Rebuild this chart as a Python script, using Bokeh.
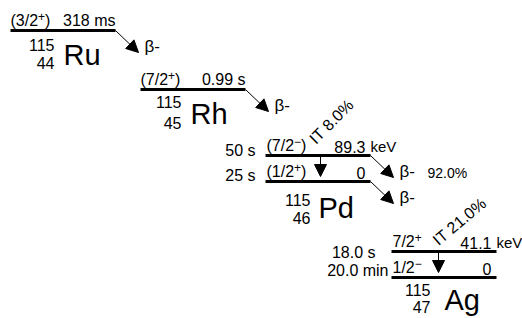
import math
from bokeh.plotting import figure
from bokeh.models import Range1d, Arrow, NormalHead, ColumnDataSource
from bokeh.embed import file_html
from bokeh.resources import INLINE
from bokeh.core.properties import value

# ---------------- data ----------------
symbols = ["Ru", "Rh", "Pd", "Ag"]
mass_numbers = [115, 115, 115, 115]
atomic_numbers = [44, 45, 46, 47]
# levels of each nuclide, upper level first
level_spins = [["(3/2⁺)"], ["(7/2⁺)"], ["(7/2⁻)", "(1/2⁺)"], ["7/2⁺", "1/2⁻"]]
level_energies = [[None], [None], ["89.3", "0"], ["41.1", "0"]]
energy_unit = "keV"
level_half_lives = [["318 ms"], ["0.99 s"], ["50 s", "25 s"], ["18.0 s", "20.0 min"]]
# beta- decay from each level (None = no beta decay), with branch label
beta_branches = [[""], [""], ["92.0%", ""], [None, None]]
it_branches = [None, None, "IT 8.0%", "IT 21.0%"]

# ---------------- layout (image pixels, y downwards) ----------------
W, H = 522, 318
FONT = "Liberation Sans"
x0s = [10, 140, 265, 391]
ground_ys = [30, 89, 181, 277]
LEVEL_LEN = 105
LEVEL_GAP = 26
num_dx = [44, 41, 45, 39]
sym_dx = [53, 50, 53, 53]
mass_dy = [14, 12, 18, 12]
z_dy = [32, 33, 36, 29]
sym_dy = [24, 24, 26, 22]
hl_left_dx = [None, None, [-10, -10], [-16, -3]]
hl_left_dy = [None, None, [-5, -6], [1, -7]]
it_x = [None, None, 320, 438]
it_label_pos = [None, None, (331, 121, 45), (459, 221, 40)]

# Liberation Sans (Arial-metric) advance widths, in em
ADV = {"(": 0.333, ")": 0.333, "/": 0.278, "+": 0.584, "−": 0.584}
ADV.update({d: 0.556 for d in "0123456789"})
SUP = {"⁺": "+", "⁻": "−"}


def Y(v):
    return H - v


p = figure(width=W, height=H, output_backend="svg", toolbar_location=None,
           x_range=Range1d(0, W), y_range=Range1d(Y(H), Y(0)),
           min_border=0)
p.axis.visible = False
p.grid.visible = False
p.outline_line_color = None
p.background_fill_color = "white"
p.border_fill_color = "white"

seg = dict(x0=[], x1=[], y=[])
KEYS = ["lab_l", "lab_r", "sup", "unit", "num", "sym", "beta", "branch"]
txt = {k: dict(x=[], y=[], t=[]) for k in KEYS}


def add(k, x, y, t):
    txt[k]["x"].append(x)
    txt[k]["y"].append(Y(y))
    txt[k]["t"].append(t)


def add_spin(x, yc, s):
    # split "(7/2⁺)" into base, superscript sign, tail
    idx = [k for k, ch in enumerate(s) if ch in SUP][0]
    base, sign, tail = s[:idx], SUP[s[idx]], s[idx + 1:]
    add("lab_l", x, yc, base)
    w = sum(ADV[c] for c in base) * 16
    add("sup", x + w, yc - 4, sign)
    w2 = ADV[sign] * 12
    if tail:
        add("lab_l", x + w + w2, yc, tail)


for i, sym in enumerate(symbols):
    x0 = x0s[i]
    x1 = x0 + LEVEL_LEN
    n = len(level_spins[i])
    for j in range(n):
        y = ground_ys[i] - (n - 1 - j) * LEVEL_GAP
        seg["x0"].append(x0)
        seg["x1"].append(x1)
        seg["y"].append(Y(y))
        add_spin(x0 + (0 if n == 1 else 1), y - 10, level_spins[i][j])
        if n == 1:
            add("lab_r", x1, y - 10, level_half_lives[i][j])
        else:
            add("lab_r", x0 + hl_left_dx[i][j], y + hl_left_dy[i][j], level_half_lives[i][j])
            e = level_energies[i][j]
            add("lab_r", x1 - 5, y - 9, e)
            if e != "0":
                add("unit", x1, y - 9, energy_unit)
        b = beta_branches[i][j]
        if b is not None:
            tip = (x1 + 23, y + 22)
            p.add_layout(Arrow(end=NormalHead(size=12, fill_color="black", line_color="black"),
                               x_start=x1, y_start=Y(y), x_end=tip[0], y_end=Y(tip[1]),
                               line_width=1, line_color="black"))
            add("beta", tip[0] + 6, tip[1] - 6, "β-")
            if b:
                add("branch", tip[0] + 34, tip[1] - 5, b)
    add("num", x0 + num_dx[i], ground_ys[i] + mass_dy[i], str(mass_numbers[i]))
    add("num", x0 + num_dx[i], ground_ys[i] + z_dy[i], str(atomic_numbers[i]))
    add("sym", x0 + sym_dx[i], ground_ys[i] + sym_dy[i], sym)
    if it_branches[i]:
        yt = ground_ys[i] - LEVEL_GAP
        p.add_layout(Arrow(end=NormalHead(size=12, fill_color="black", line_color="black"),
                           x_start=it_x[i], y_start=Y(yt), x_end=it_x[i], y_end=Y(ground_ys[i] - 5),
                           line_width=1, line_color="black"))
        lx, ly, ang = it_label_pos[i]
        p.text(x=[lx], y=[Y(ly)], text=[it_branches[i]], angle=math.radians(ang),
               text_font=value(FONT), text_font_size="16px", text_align="center",
               text_baseline="middle", text_color="black")

p.segment(x0="x0", y0="y", x1="x1", y1="y", source=ColumnDataSource(seg),
          line_width=3, line_color="black")

styles = {
    "lab_l": ("left", "16px"),
    "lab_r": ("right", "16px"),
    "sup": ("left", "12px"),
    "unit": ("left", "15px"),
    "num": ("right", "16px"),
    "sym": ("left", "29px"),
    "beta": ("left", "17px"),
    "branch": ("left", "14px"),
}
for k, (al, fs) in styles.items():
    if txt[k]["x"]:
        p.text(x="x", y="y", text="t", source=ColumnDataSource(txt[k]),
               text_font=value(FONT), text_font_size=fs, text_align=al,
               text_baseline="middle", text_color="black")

open("out.html", "w").write(file_html(p, INLINE))
